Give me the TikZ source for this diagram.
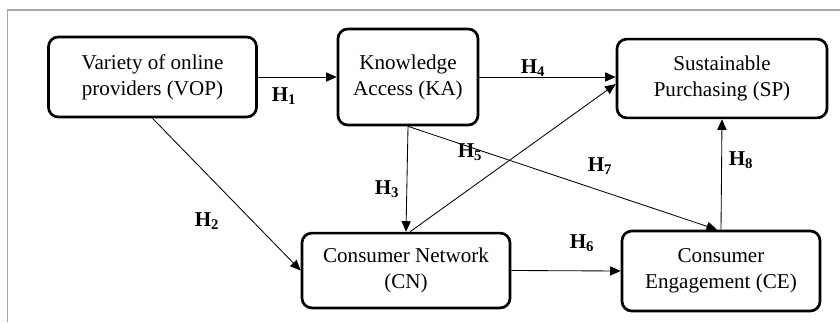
\documentclass[tikz,border=0pt]{standalone}
\usepackage{fontspec}
\setmainfont{Liberation Serif}
\usetikzlibrary{arrows.meta, positioning, calc}

\begin{document}
\begin{tikzpicture}[
    x=0.025cm, y=-0.025cm,
    block/.style={draw, rounded corners=7pt, line width=1.9pt, align=center, inner sep=2pt, font=\fontsize{15}{18.5}\selectfont},
    hyp/.style={font=\fontsize{15}{15}\selectfont\bfseries},
    link/.style={->, line width=0.6pt},
    >={Triangle[length=7.5pt, width=6.5pt]}
]
  % Frame
  \useasboundingbox (0,0) rectangle (840,322);
  \draw[gray!70, line width=0.8pt] (840,10) -- (7.5,10) -- (7.5,322);

  % Constructs
  \node[block, minimum width=5.2cm, minimum height=2cm] (VOP) at (152.5, 77) {Variety of online\\providers (VOP)};
  \node[block, minimum width=3.5cm, minimum height=2.4cm] (KA) at (408, 77) {Knowledge\\Access (KA)};
  \node[block, minimum width=5.25cm, minimum height=1.97cm] (SP) at (722, 78.5) {Sustainable\\Purchasing (SP)};
  \node[block, minimum width=5.2cm, minimum height=1.87cm] (CN) at (406, 270.5) {Consumer Network\\(CN)};
  \node[block, minimum width=4.95cm, minimum height=2cm] (CE) at (721, 271) {Consumer\\Engagement (CE)};

  % Paths
  \draw[link] (VOP.east) -- (KA.west);
  \draw[link] (KA.east) -- (KA.east -| SP.west);
  \draw[link] (VOP.south) -- (CN.west);
  \draw[link] (KA.south) -- (CN.north);
  \draw[link] ([xshift=0.1cm]CN.north) -- ([yshift=-0.14cm]SP.west);
  \draw[link] (KA.south) -- ([xshift=-0.1cm]CE.north);
  \draw[link] (CN.east) -- (CE.west);
  \draw[link] (CE.north) -- (SP.south);

  % Hypotheses
  \node[hyp] (h1) at (284, 96) {H\textsubscript{1}};
  \node[hyp] (h2) at (207, 221) {H\textsubscript{2}};
  \node[hyp] (h3) at (387, 189) {H\textsubscript{3}};
  \node[hyp] (h4) at (533, 68) {H\textsubscript{4}};
  \node[hyp] (h5) at (470, 152) {H\textsubscript{5}};
  \node[hyp] (h6) at (582, 243) {H\textsubscript{6}};
  \node[hyp] (h7) at (600, 166) {H\textsubscript{7}};
  \node[hyp] (h8) at (741, 160) {H\textsubscript{8}};
\end{tikzpicture}
\end{document}
